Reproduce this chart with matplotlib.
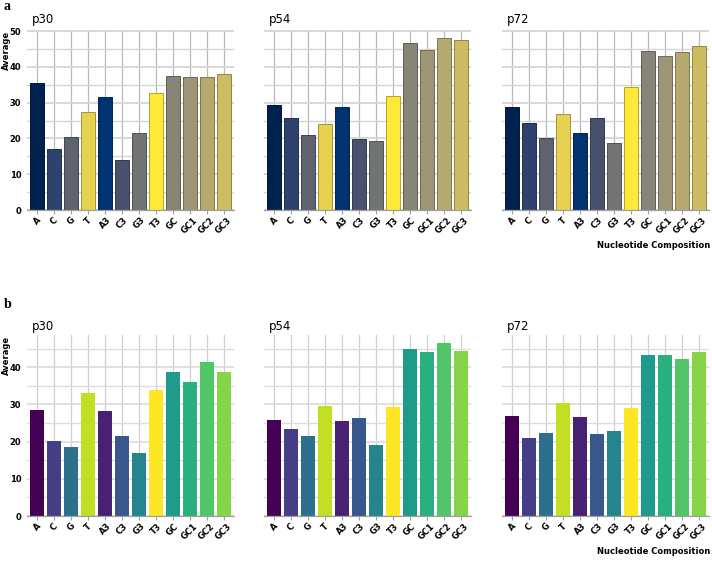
import numpy as np
import matplotlib
matplotlib.use('Agg')
import matplotlib.pyplot as plt
from matplotlib.colors import to_rgb

# categories and groups
categories = ['A', 'C', 'G', 'T', 'A3', 'C3', 'G3', 'T3', 'GC', 'GC1', 'GC2', 'GC3']
groups = ['p30', 'p54', 'p72']

# panel a values
a_p30 = [35.4, 17.0, 20.3, 27.4, 31.7, 14.0, 21.6, 32.7, 37.4, 37.2, 37.1, 38.0]
a_p54 = [29.2, 25.6, 20.9, 24.0, 28.9, 19.8, 19.3, 31.8, 46.6, 44.6, 48.0, 47.5]
a_p72 = [28.8, 24.3, 20.0, 26.8, 21.4, 25.6, 18.7, 34.3, 44.4, 43.1, 44.1, 45.8]

# panel b values
b_p30 = [28.5, 20.1, 18.6, 33.1, 28.2, 21.5, 16.9, 33.9, 38.7, 36.1, 41.5, 38.7]
b_p54 = [25.7, 23.4, 21.6, 29.6, 25.5, 26.4, 19.1, 29.4, 44.9, 44.2, 46.5, 44.4]
b_p72 = [26.9, 21.0, 22.2, 30.3, 26.5, 22.0, 22.8, 29.1, 43.2, 43.4, 42.2, 44.2]

panel_a = [a_p30, a_p54, a_p72]
panel_b = [b_p30, b_p54, b_p72]

# colours follow alphabetical factor order like ggplot
levels = sorted(categories)


def colours(cmap_name):
    cmap = plt.get_cmap(cmap_name)
    pal = [cmap(v) for v in np.linspace(0, 1, len(levels))]
    return [pal[levels.index(c)] for c in categories]


fig = plt.figure(figsize=(7.12, 5.61), dpi=100)
W, H = 712, 561
lefts = [27, 264, 502]
width = 207


def draw_panel(data, bottom_px, top_px, title_px, ymax, cmap_name, edged, grid_major, grid_vert):
    cols = colours(cmap_name)
    x = np.arange(len(categories))
    for i, (g, vals) in enumerate(zip(groups, data)):
        ax = fig.add_axes([lefts[i] / W, (H - bottom_px) / H, width / W, (bottom_px - top_px) / H])
        ax.set_axisbelow(True)
        if edged:
            edges = [tuple(np.array(to_rgb(c)) * 0.7) for c in cols]
            ax.bar(x, vals, width=0.8, color=cols, edgecolor=edges, linewidth=0.7)
        else:
            ax.bar(x, vals, width=0.8, color=cols, linewidth=0)
        ax.set_xlim(-0.6, len(categories) - 0.4)
        ax.set_ylim(0, ymax)
        ax.set_yticks([0, 10, 20, 30, 40, 50] if ymax > 50 else [0, 10, 20, 30, 40])
        ax.set_yticks(np.arange(5, ymax, 10), minor=True)
        ax.set_xticks(x)
        ax.set_xticklabels(categories, rotation=45, fontsize=6, fontweight='bold',
                           ha='center', va='top')
        ax.grid(axis='y', which='major', color=grid_major, linewidth=1.3)
        ax.grid(axis='y', which='minor', color=grid_major, linewidth=1.0)
        ax.grid(axis='x', which='major', color=grid_vert, linewidth=0.9)
        for s in ['top', 'right', 'left']:
            ax.spines[s].set_visible(False)
        ax.spines['bottom'].set_color('#a0a0a0')
        ax.spines['bottom'].set_linewidth(0.9)
        ax.tick_params(axis='x', length=3, color='#a0a0a0', width=0.8, pad=1)
        ax.tick_params(axis='y', which='both', length=0, pad=4)
        if i == 0:
            for lab in ax.get_yticklabels():
                lab.set_fontsize(6)
                lab.set_fontweight('bold')
        else:
            ax.set_yticklabels([])
        # facet title
        fig.text((lefts[i] + 5) / W, 1 - title_px / H, g, fontsize=8.5,
                 ha='left', va='baseline')


draw_panel(panel_a, 210, 29.6, 23.5, 50.4, 'cividis', True, '#d6d6d6', '#b8b8b8')
draw_panel(panel_b, 516, 334.5, 330, 48.8, 'viridis', False, '#dddddd', '#cfcfcf')

# y axis titles
fig.text(6 / W, 1 - 31 / H, 'Average', rotation=90, fontsize=6, fontweight='bold',
         ha='center', va='top')
fig.text(6 / W, 1 - 336 / H, 'Average', rotation=90, fontsize=6, fontweight='bold',
         ha='center', va='top')

# x axis titles
fig.text(710 / W, 1 - 246 / H, 'Nucleotide Composition', fontsize=6, fontweight='bold',
         ha='right', va='center')
fig.text(710 / W, 1 - 552 / H, 'Nucleotide Composition', fontsize=6, fontweight='bold',
         ha='right', va='center')

# panel letters
fig.text(4 / W, 1 - 7 / H, 'a', family='Liberation Serif', fontsize=10, fontweight='bold',
         ha='left', va='center')
fig.text(4 / W, 1 - 305 / H, 'b', family='Liberation Serif', fontsize=10, fontweight='bold',
         ha='left', va='center')

fig.savefig('out.png', dpi=100, facecolor='white')
